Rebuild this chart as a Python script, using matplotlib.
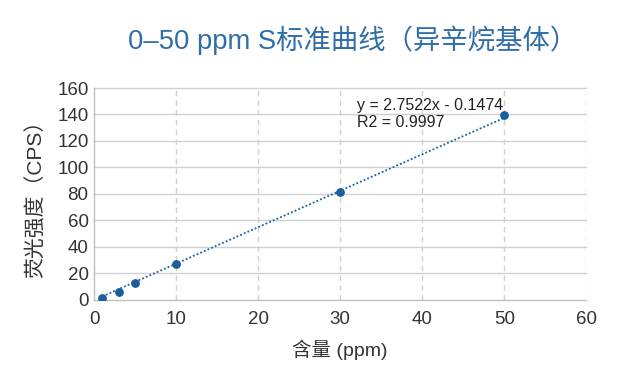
import matplotlib
matplotlib.use("Agg")
import matplotlib.pyplot as plt
import numpy as np

plt.rcParams["font.family"] = ["Liberation Sans", "Noto Sans CJK SC", "DejaVu Sans"]

# data
conc = [1, 3, 5, 10, 30, 50]
cps = [1.5, 6.0, 12.8, 27.2, 81.5, 139.6]
slope = 2.7522
intercept = -0.1474
r2 = 0.9997

x_ticks = [0, 10, 20, 30, 40, 50, 60]
y_ticks = [0, 20, 40, 60, 80, 100, 120, 140, 160]

title = "0–50 ppm S标准曲线（异辛烷基体）"
xlabel = "含量 (ppm)"
ylabel = "荧光强度（CPS）"

blue = "#1a5e9c"
grid = "#d0d0d0"
txt = "#333333"

fig = plt.figure(figsize=(6.23, 3.86), dpi=100)
ax = fig.add_axes([0.151, 0.223, 0.790, 0.549])

# trendline over the data range
xs = np.array([min(conc), max(conc)])
ax.plot(xs, slope * xs + intercept, color=blue, linestyle=(0, (1, 1.2)), linewidth=1.3, zorder=2)
ax.plot(conc, cps, "o", color=blue, markersize=5.3, zorder=3)

ax.set_xlim(0, 60)
ax.set_ylim(0, 160)
ax.set_xticks(x_ticks)
ax.set_yticks(y_ticks)

for y in y_ticks[1:]:
    ax.axhline(y, color=grid, linewidth=1.0, zorder=0, clip_on=False)
for x in x_ticks[1:]:
    ax.axvline(x, color=grid, linewidth=1.0, linestyle=(0, (4, 3)), zorder=0)

for s in ["top", "right"]:
    ax.spines[s].set_visible(False)
for s in ["left", "bottom"]:
    ax.spines[s].set_color("#bfbfbf")
    ax.spines[s].set_linewidth(1.0)

ax.tick_params(axis="both", length=0, colors=txt, labelsize=13.5, pad=4)
ax.tick_params(axis="x", pad=8)

ax.text(32.1, 128.5, f"y = {slope}x - {abs(intercept)}\nR2 = {r2}", fontsize=11.5,
        color="#222222", va="bottom", ha="left", linespacing=1.15)

ax.set_xlabel(xlabel, fontsize=14, color=txt, labelpad=8)
ax.set_ylabel(ylabel, fontsize=15, color=txt, labelpad=8)
fig.suptitle(title, x=0.566, y=0.935, fontsize=19.7, color="#2f6ea6")

fig.savefig("out.png", dpi=100)
